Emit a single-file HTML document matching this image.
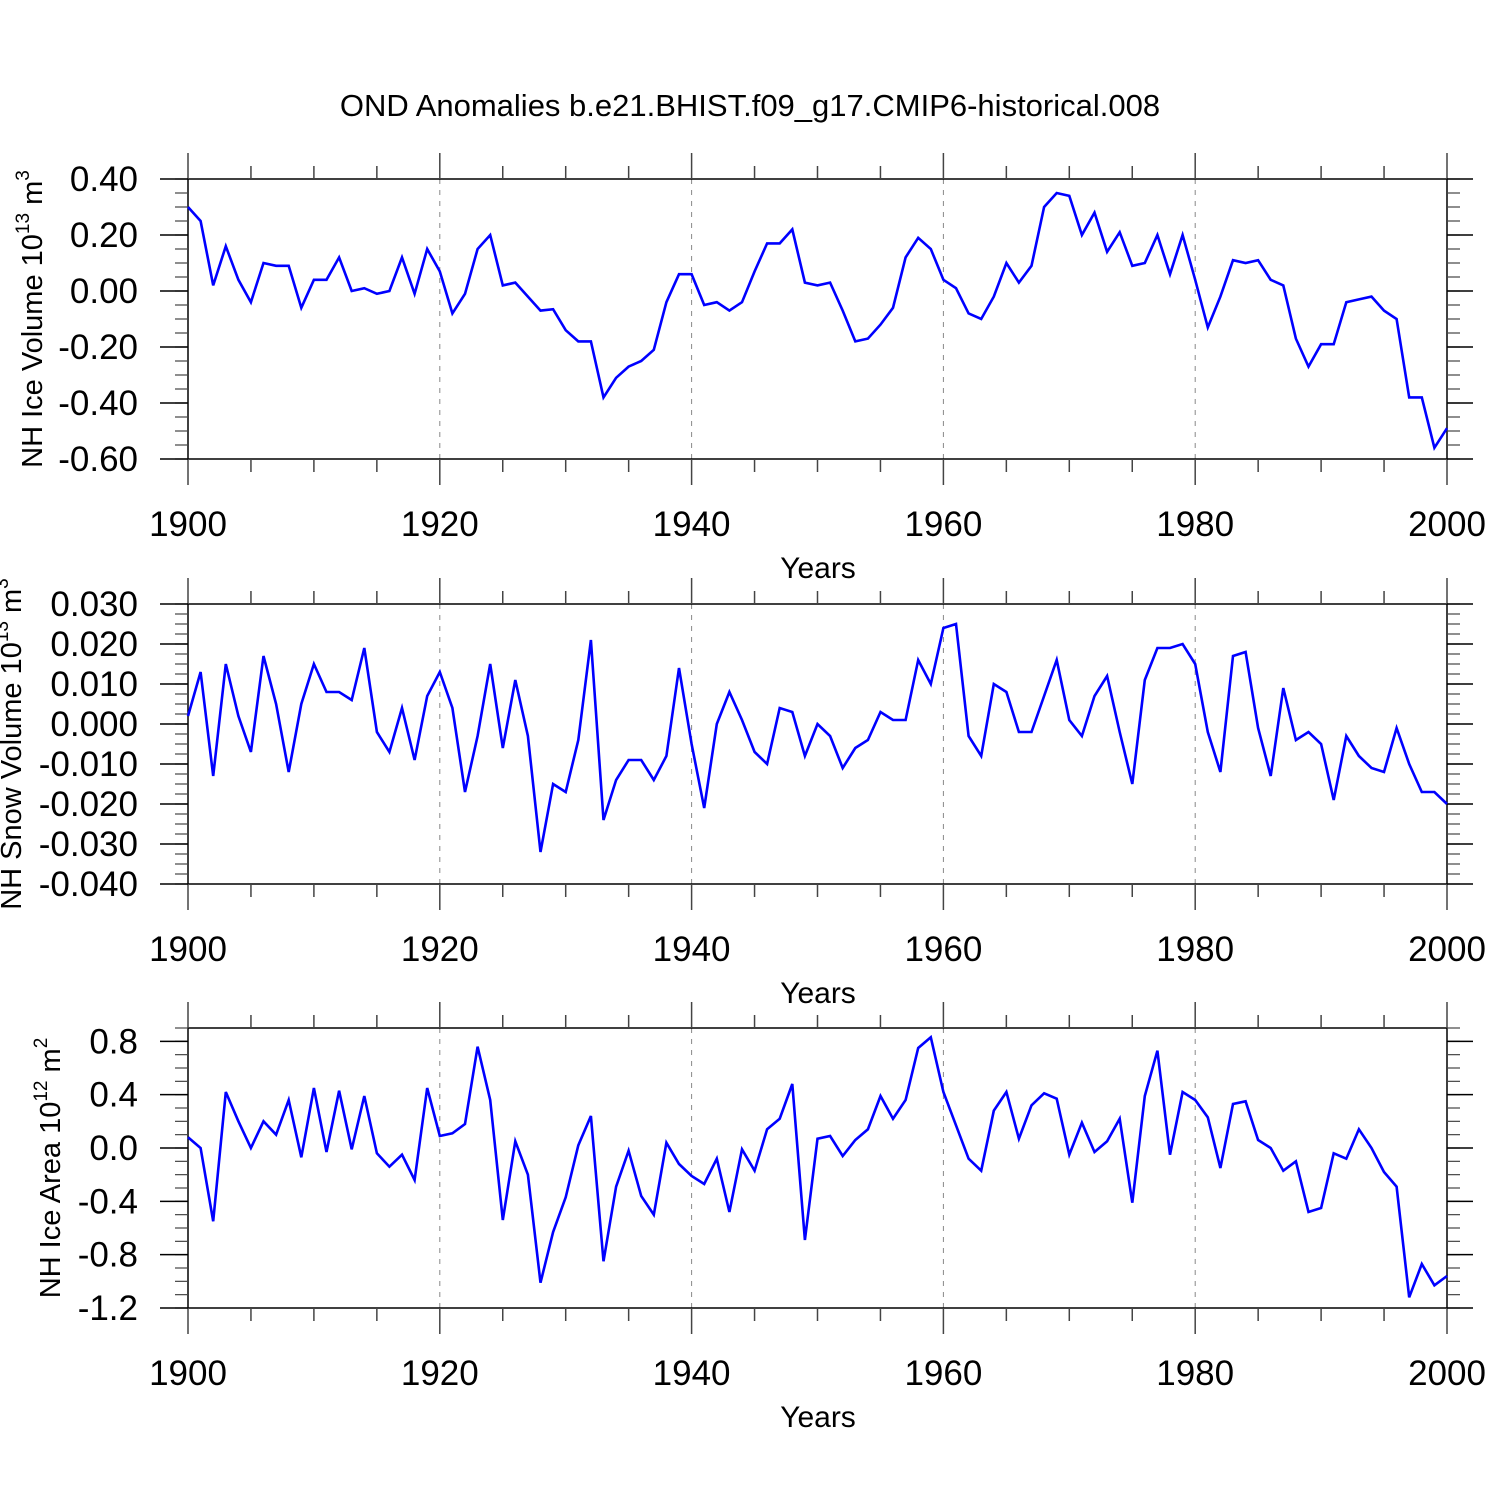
<!DOCTYPE html>
<html><head><meta charset="utf-8"><style>
html,body{margin:0;padding:0;background:#fff;}
svg{display:block;font-family:"Liberation Sans",sans-serif;}
</style></head><body>
<svg id="chart" width="1500" height="1500" viewBox="0 0 1500 1500" xmlns="http://www.w3.org/2000/svg">
<text x="750" y="116" font-size="31" text-anchor="middle">OND Anomalies b.e21.BHIST.f09_g17.CMIP6-historical.008</text>
</svg>
<script>
const years = [];
for (let y = 1900; y <= 2000; y++) years.push(y);
const iceVolume = [0.30,0.25,0.02,0.16,0.04,-0.04,0.10,0.09,0.09,-0.06,0.04,0.04,0.12,0.00,0.01,-0.01,0.00,0.12,-0.01,0.15,0.07,-0.08,-0.01,0.15,0.20,0.02,0.03,-0.02,-0.07,-0.065,-0.14,-0.18,-0.18,-0.38,-0.31,-0.27,-0.25,-0.21,-0.04,0.06,0.06,-0.05,-0.04,-0.07,-0.04,0.07,0.17,0.17,0.22,0.03,0.02,0.03,-0.07,-0.18,-0.17,-0.12,-0.06,0.12,0.19,0.15,0.04,0.01,-0.08,-0.10,-0.02,0.10,0.03,0.09,0.30,0.35,0.34,0.20,0.28,0.14,0.21,0.09,0.10,0.20,0.06,0.20,0.04,-0.13,-0.02,0.11,0.10,0.11,0.04,0.02,-0.17,-0.27,-0.19,-0.19,-0.04,-0.03,-0.02,-0.07,-0.10,-0.38,-0.38,-0.56,-0.49];
const snowVolume = [0.002,0.013,-0.013,0.015,0.002,-0.007,0.017,0.005,-0.012,0.005,0.015,0.008,0.008,0.006,0.019,-0.002,-0.007,0.004,-0.009,0.007,0.013,0.004,-0.017,-0.003,0.015,-0.006,0.011,-0.003,-0.032,-0.015,-0.017,-0.004,0.021,-0.024,-0.014,-0.009,-0.009,-0.014,-0.008,0.014,-0.005,-0.021,0.000,0.008,0.001,-0.007,-0.010,0.004,0.003,-0.008,0.000,-0.003,-0.011,-0.006,-0.004,0.003,0.001,0.001,0.016,0.010,0.024,0.025,-0.003,-0.008,0.010,0.008,-0.002,-0.002,0.007,0.016,0.001,-0.003,0.007,0.012,-0.002,-0.015,0.011,0.019,0.019,0.020,0.015,-0.002,-0.012,0.017,0.018,-0.001,-0.013,0.009,-0.004,-0.002,-0.005,-0.019,-0.003,-0.008,-0.011,-0.012,-0.001,-0.010,-0.017,-0.017,-0.020];
const iceArea = [0.08,0.00,-0.55,0.42,0.20,0.00,0.20,0.10,0.36,-0.07,0.45,-0.03,0.43,-0.01,0.39,-0.04,-0.14,-0.05,-0.24,0.45,0.09,0.11,0.18,0.76,0.36,-0.54,0.05,-0.20,-1.01,-0.63,-0.37,0.02,0.24,-0.85,-0.29,-0.02,-0.36,-0.50,0.04,-0.12,-0.21,-0.27,-0.08,-0.48,-0.01,-0.17,0.14,0.22,0.48,-0.69,0.07,0.09,-0.06,0.06,0.14,0.39,0.22,0.36,0.75,0.83,0.42,0.17,-0.08,-0.17,0.28,0.42,0.07,0.32,0.41,0.37,-0.05,0.19,-0.03,0.05,0.22,-0.41,0.39,0.73,-0.05,0.42,0.36,0.23,-0.15,0.33,0.35,0.06,0.00,-0.17,-0.10,-0.48,-0.45,-0.04,-0.08,0.14,0.00,-0.18,-0.29,-1.12,-0.87,-1.03,-0.96];
const xTickLabels = ["1900","1920","1940","1960","1980","2000"];
const iceVolTicks = ["0.40","0.20","0.00","-0.20","-0.40","-0.60"];
const snowTicks = ["0.030","0.020","0.010","0.000","-0.010","-0.020","-0.030","-0.040"];
const areaTicks = ["0.8","0.4","0.0","-0.4","-0.8","-1.2"];

const NS = "http://www.w3.org/2000/svg";
const svg = document.getElementById("chart");
function mk(tag, attrs, parent) {
  const e = document.createElementNS(NS, tag);
  for (const k in attrs) e.setAttribute(k, attrs[k]);
  (parent || svg).appendChild(e);
  return e;
}
const X0 = 188, X1 = 1447;
function xs(yr) { return X0 + (yr - 1900) / 100 * (X1 - X0); }

function panel(cfg) {
  const g = mk("g", {});
  
  
  const top = cfg.top, bot = cfg.top + 280;
  const ys = v => bot - (v - cfg.ymin) / (cfg.ymax - cfg.ymin) * 280;
  [1920,1940,1960,1980].forEach(yr => {
    const l = mk("line", {x1: xs(yr), x2: xs(yr), y1: top, y2: bot, stroke: "#888", "stroke-width": 1, "stroke-dasharray": "5,6"}, g);
    
    
  });
  const fr = mk("rect", {x: X0, y: top, width: X1 - X0, height: 280, fill: "none", stroke: "#000", "stroke-width": 1.5}, g);
  
  
  for (let yr = 1900; yr <= 2000; yr += 5) {
    const major = yr % 20 === 0;
    const len = major ? 26 : 13;
    const x = xs(yr);
    mk("line", {x1: x, x2: x, y1: top - len, y2: top, stroke: "#444", "stroke-width": 1.5}, g);
    mk("line", {x1: x, x2: x, y1: bot, y2: bot + len, stroke: "#444", "stroke-width": 1.5}, g);
  }
  xTickLabels.forEach((lab, i) => {
    const t = mk("text", {x: xs(+lab), y: bot + 77, "font-size": 35, "text-anchor": "middle"}, g);
    t.textContent = lab;
    
    
  });
  const xt = mk("text", {x: 818, y: bot + 119, "font-size": 30, "text-anchor": "middle"}, g);
  xt.textContent = "Years";
  
  
  const nMinor = Math.round((cfg.ymax - cfg.ymin) / cfg.minor);
  for (let i = 0; i <= nMinor; i++) {
    const y = bot - i * 280 / nMinor;
    mk("line", {x1: X0 - 13, x2: X0, y1: y, y2: y, stroke: "#444", "stroke-width": 1.2}, g);
    mk("line", {x1: X1, x2: X1 + 13, y1: y, y2: y, stroke: "#444", "stroke-width": 1.2}, g);
  }
  cfg.ticks.forEach(lab => {
    const y = ys(parseFloat(lab));
    mk("line", {x1: X0 - 28, x2: X0, y1: y, y2: y, stroke: "#000", "stroke-width": 1.5}, g);
    mk("line", {x1: X1, x2: X1 + 26, y1: y, y2: y, stroke: "#000", "stroke-width": 1.5}, g);
    const t = mk("text", {x: 138, y: y + 12, "font-size": 35, "text-anchor": "end"}, g);
    t.textContent = lab;
    
    
  });
  const yt = mk("text", {x: 0, y: 0, "font-size": 29, "text-anchor": "middle", transform: `translate(${cfg.titleX},${(top + bot) / 2}) rotate(-90)`}, g);
  yt.innerHTML = cfg.title;
  
  
  const pts = cfg.data.map((v, i) => xs(years[i]).toFixed(1) + "," + ys(v).toFixed(1)).join(" ");
  const pl = mk("polyline", {points: pts, fill: "none", stroke: "#0000ff", "stroke-width": 2.6, "stroke-linejoin": "miter"}, g);
  
  
}

panel({name: "ice-volume-panel", top: 179, ymin: -0.6, ymax: 0.4, minor: 0.05, ticks: iceVolTicks, data: iceVolume, titleX: 42,
  title: 'NH Ice Volume 10<tspan font-size="19" dy="-13">13</tspan><tspan dy="13"> m</tspan><tspan font-size="19" dy="-13">3</tspan>'});
panel({name: "snow-volume-panel", top: 604, ymin: -0.04, ymax: 0.03, minor: 0.0025, ticks: snowTicks, data: snowVolume, titleX: 21,
  title: 'NH Snow Volume 10<tspan font-size="19" dy="-13">13</tspan><tspan dy="13"> m</tspan><tspan font-size="19" dy="-13">3</tspan>'});
panel({name: "ice-area-panel", top: 1028, ymin: -1.2, ymax: 0.9, minor: 0.1, ticks: areaTicks, data: iceArea, titleX: 60,
  title: 'NH Ice Area 10<tspan font-size="19" dy="-13">12</tspan><tspan dy="13"> m</tspan><tspan font-size="19" dy="-13">2</tspan>'});
</script>
</body></html>
